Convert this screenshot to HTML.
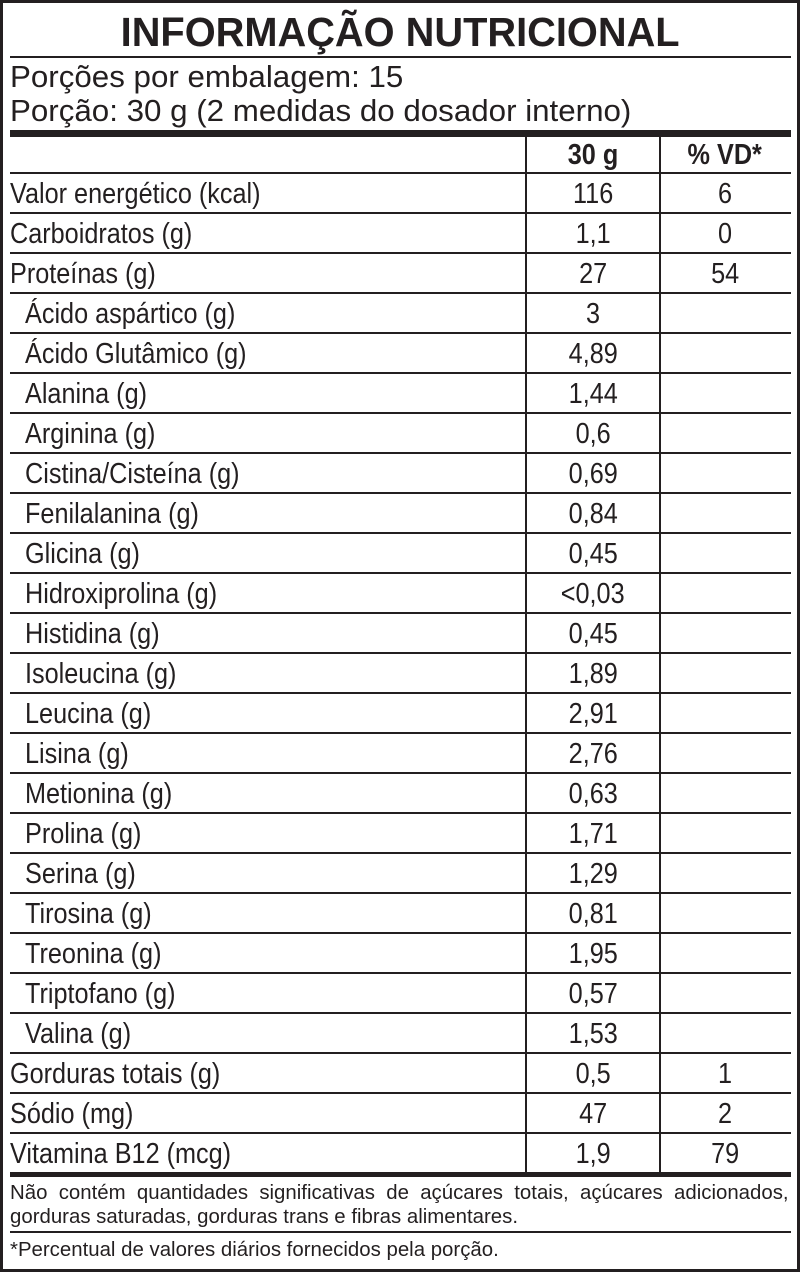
<!DOCTYPE html>
<html><head><meta charset="utf-8"><style>
body{margin:0;width:800px;height:1272px;background:#fff;position:relative;overflow:hidden;font-family:"Liberation Sans",sans-serif;color:#231f20}
.frame{position:absolute;left:0;top:0;width:794px;height:1266px;border:3px solid #231f20}
.a{position:absolute}
.s{display:inline-block;transform:scaleX(.87);transform-origin:left center;white-space:nowrap}
.c{display:inline-block;transform:scaleX(.87);transform-origin:center center;white-space:nowrap}
.hl{position:absolute;left:10px;width:781px;height:2px;background:#231f20}
.row{position:absolute;left:10px;width:781px;height:40px;line-height:42px;font-size:29px}
.row .n{position:absolute;left:0;top:0}
.row .n.i{left:15px}
.row .v{position:absolute;left:516px;width:134px;text-align:center;top:0}
.row .p{position:absolute;left:650px;width:130px;text-align:center;top:0}
.vl{position:absolute;top:137px;height:1038px;width:2px;background:#231f20}
</style></head><body>
<div class="frame"></div>
<div class="a" style="left:0;width:800px;top:8px;text-align:center;font-size:41px;font-weight:bold;line-height:48px"><span class="c" style="transform:scaleX(.97)">INFORMAÇÃO NUTRICIONAL</span></div>
<div class="hl" style="top:56px"></div>
<div class="a" style="left:10px;top:60px;font-size:31px;line-height:34px"><span class="s" style="transform:scaleX(1.01)">Porções por embalagem: 15</span></div>
<div class="a" style="left:10px;top:94px;font-size:31px;line-height:34px"><span class="s" style="transform:scaleX(1.01)">Porção: 30 g (2 medidas do dosador interno)</span></div>
<div class="a" style="left:10px;top:130px;width:781px;height:7px;background:#231f20"></div>
<div class="row" style="top:134px;font-weight:bold"><div class="v"><span class="c">30 g</span></div><div class="p"><span class="c">% VD*</span></div></div>
<div class="vl" style="left:525px"></div>
<div class="vl" style="left:659px"></div>
<div id="rows"></div>
<div class="hl" style="top:172px"></div>
<script>
var d=[["Valor energético (kcal)","116","6",0],["Carboidratos (g)","1,1","0",0],["Proteínas (g)","27","54",0],
["Ácido aspártico (g)","3","",1],["Ácido Glutâmico (g)","4,89","",1],["Alanina (g)","1,44","",1],["Arginina (g)","0,6","",1],
["Cistina/Cisteína (g)","0,69","",1],["Fenilalanina (g)","0,84","",1],["Glicina (g)","0,45","",1],["Hidroxiprolina (g)","<0,03","",1],
["Histidina (g)","0,45","",1],["Isoleucina (g)","1,89","",1],["Leucina (g)","2,91","",1],["Lisina (g)","2,76","",1],
["Metionina (g)","0,63","",1],["Prolina (g)","1,71","",1],["Serina (g)","1,29","",1],["Tirosina (g)","0,81","",1],
["Treonina (g)","1,95","",1],["Triptofano (g)","0,57","",1],["Valina (g)","1,53","",1],["Gorduras totais (g)","0,5","1",0],
["Sódio (mg)","47","2",0],["Vitamina B12 (mcg)","1,9","79",0]];
var h="";
function esc(s){return s.replace(/</g,"&lt;")}
for(var i=0;i<d.length;i++){var t=173+40*i;
h+='<div class="row" style="top:'+t+'px"><div class="n'+(d[i][3]?' i':'')+'"><span class="s">'+d[i][0]+'</span></div><div class="v"><span class="c">'+esc(d[i][1])+'</span></div><div class="p"><span class="c">'+d[i][2]+'</span></div></div>';
if(i<d.length-1)h+='<div class="hl" style="top:'+(t+39)+'px"></div>';}
document.getElementById("rows").innerHTML=h;
</script>
<div class="a" style="left:10px;top:1172px;width:781px;height:5px;background:#231f20"></div>
<div class="a" style="left:10px;top:1181px;width:781px;font-size:20px;line-height:24px">
<div style="white-space:nowrap"><span class="s" style="transform:scaleX(1.02);word-spacing:5.5px">Não contém quantidades significativas de açúcares totais, açúcares adicionados,</span></div>
<div style="white-space:nowrap"><span class="s" style="transform:scaleX(1.02)">gorduras saturadas, gorduras trans e fibras alimentares.</span></div>
</div>
<div class="hl" style="top:1231px"></div>
<div class="a" style="left:10px;top:1238px;font-size:20px;line-height:24px"><span class="s" style="transform:scaleX(1.02)">*Percentual de valores diários fornecidos pela porção.</span></div>
</body></html>
